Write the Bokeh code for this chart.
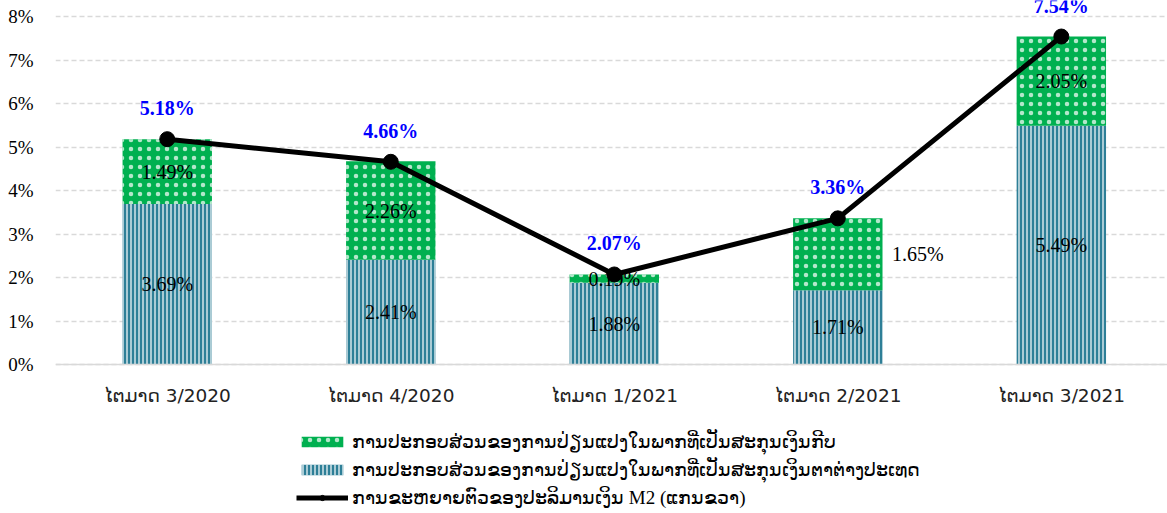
from bokeh.plotting import figure
from bokeh.models import ColumnDataSource, Range1d, FixedTicker, Legend, LegendItem
from bokeh.core.properties import value
from bokeh.embed import file_html
from bokeh.resources import INLINE

# ---------------- data ----------------
categories = ["ໄຕມາດ 3/2020", "ໄຕມາດ 4/2020", "ໄຕມາດ 1/2021", "ໄຕມາດ 2/2021", "ໄຕມາດ 3/2021"]
foreign_contrib = [3.69, 2.41, 1.88, 1.71, 5.49]
kip_contrib = [1.49, 2.26, 0.19, 1.65, 2.05]
m2_growth = [5.18, 4.66, 2.07, 3.36, 7.54]
y_ticks = [0, 1, 2, 3, 4, 5, 6, 7, 8]
y_tick_labels = ["0%", "1%", "2%", "3%", "4%", "5%", "6%", "7%", "8%"]
legend_labels = [
    "ການປະກອບສ່ວນຂອງການປ່ຽນແປງໃນພາກທີ່ເປັນສະກຸນເງິນກີບ",
    "ການປະກອບສ່ວນຂອງການປ່ຽນແປງໃນພາກທີ່ເປັນສະກຸນເງິນຕາຕ່າງປະເທດ",
    "ການຂະຫຍາຍຕົວຂອງປະລິມານເງິນ M2 (ແກນຂວາ)",
]

# style-only: horizontal nudge (px) of the kip contribution labels
kip_label_dx = [0, 0, 0, 80, 0]

# ---------------- derived ----------------
xs = list(range(len(categories)))
kip_top = [f + k for f, k in zip(foreign_contrib, kip_contrib)]
foreign_mid = [f / 2 for f in foreign_contrib]
kip_mid = [f + k / 2 for f, k in zip(foreign_contrib, kip_contrib)]

# frame spans the full canvas height; the x axis is pinned at y = 0
p = figure(width=1167, height=513, output_backend="svg", toolbar_location=None,
           x_range=Range1d(-0.5, 4.475), y_range=Range1d(-3.425, 8.368),
           min_border_left=55, min_border_right=0, min_border_top=0, min_border_bottom=0)
p.outline_line_color = None
p.background_fill_color = "white"
p.border_fill_color = "white"

# grid
p.xgrid.visible = False
p.ygrid.ticker = FixedTicker(ticks=y_ticks)
p.ygrid.grid_line_color = "#D9D9D9"
p.ygrid.grid_line_width = 1.5
p.ygrid.grid_line_dash = "5 3"

# axes
p.yaxis.ticker = FixedTicker(ticks=y_ticks)
p.yaxis.major_label_overrides = {t: l for t, l in zip(y_ticks, y_tick_labels)}
p.yaxis.axis_line_color = None
p.yaxis.major_tick_line_color = None
p.yaxis.minor_tick_line_color = None
p.yaxis.major_tick_out = 0
p.yaxis.major_tick_in = 0
p.yaxis.major_label_standoff = 22
p.yaxis.major_label_text_font = "Liberation Serif"
p.yaxis.major_label_text_font_size = "19px"
p.yaxis.major_label_text_color = "#000000"

p.xaxis.fixed_location = 0
p.xaxis.ticker = FixedTicker(ticks=xs)
p.xaxis.major_label_overrides = {x: c for x, c in zip(xs, categories)}
p.xaxis.axis_line_color = "#D9D9D9"
p.xaxis.axis_line_width = 1.5
p.xaxis.major_tick_line_color = None
p.xaxis.minor_tick_line_color = None
p.xaxis.major_tick_out = 0
p.xaxis.major_tick_in = 0
p.xaxis.major_label_standoff = 20
p.xaxis.major_label_text_font = "DejaVu Sans"
p.xaxis.major_label_text_font_size = "18.5px"
p.xaxis.major_label_text_color = "#222222"

# bars
src = ColumnDataSource(dict(x=xs, foreign=foreign_contrib, kip_top=kip_top))
foreign_bar = p.vbar(x="x", bottom=0, top="foreign", width=0.4, source=src,
                     fill_color="#2E7F97", line_color=None,
                     hatch_pattern="vertical_line", hatch_color="white",
                     hatch_weight=1.2, hatch_scale=4)
kip_bar = p.vbar(x="x", bottom="foreign", top="kip_top", width=0.4, source=src,
                 fill_color="#00B050", line_color=None,
                 hatch_pattern="dot", hatch_color="white", hatch_alpha=0.7,
                 hatch_weight=1, hatch_scale=9)

# bar value labels
lbl_font = value("Liberation Serif")
p.text(x=xs, y=foreign_mid, text=[f"{v:.2f}%" for v in foreign_contrib],
       text_font=lbl_font, text_font_size="20px", text_color="#000000",
       text_align="center", text_baseline="middle")
for i, (xv, yv, kv) in enumerate(zip(xs, kip_mid, kip_contrib)):
    p.text(x=[xv], y=[yv], text=[f"{kv:.2f}%"], x_offset=kip_label_dx[i],
           text_font=lbl_font, text_font_size="20px", text_color="#000000",
           text_align="center", text_baseline="middle")

# M2 line
line_r = p.line(x=xs, y=m2_growth, line_color="black", line_width=5)
mark_r = p.scatter(x=xs, y=m2_growth, size=15, marker="circle",
                   fill_color="black", line_color="black")

p.text(x=xs, y=m2_growth, text=[f"{v:.2f}%" for v in m2_growth], y_offset=-31,
       text_font=lbl_font, text_font_size="20px", text_font_style="bold",
       text_color="#0000FF", text_align="center", text_baseline="middle")

# legend (inside the tall frame, below the axis)
legend = Legend(items=[
    LegendItem(label=legend_labels[0], renderers=[kip_bar]),
    LegendItem(label=legend_labels[1], renderers=[foreign_bar]),
    LegendItem(label=legend_labels[2], renderers=[line_r, mark_r]),
], location=(241, 2))
legend.orientation = "vertical"
legend.padding = 0
legend.margin = 0
legend.spacing = 1
legend.label_height = 27
legend.glyph_height = 13
legend.glyph_width = 52
legend.label_standoff = 4
legend.label_text_font = "Liberation Serif"
legend.label_text_font_size = "19px"
legend.label_text_color = "#000000"
legend.border_line_color = None
legend.background_fill_alpha = 0
p.add_layout(legend)

open("out.html", "w").write(file_html(p, INLINE))
